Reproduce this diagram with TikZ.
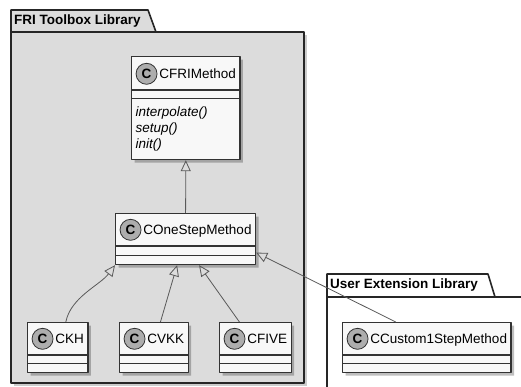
\documentclass[tikz,border=0pt]{standalone}
\usepackage{fontspec}
\setmainfont{Liberation Sans}
\usetikzlibrary{shapes.multipart,shadows,arrows.meta}
\definecolor{pkgfill}{HTML}{DCDCDC}
\definecolor{classfill}{HTML}{F8F8F8}
\definecolor{badgefill}{HTML}{ADADAD}
\definecolor{edgeline}{HTML}{333333}
\definecolor{linkline}{HTML}{595959}
\tikzset{
  badge/.style={circle, anchor=center, draw=edgeline, fill=badgefill, line width=0.8pt, minimum size=21pt, inner sep=0pt, font=\bfseries\fontsize{13.5}{13.5}\selectfont},
  umlclass/.style={rectangle split, rectangle split parts=3, rectangle split part align=left, draw=edgeline, line width=1.3pt, fill=classfill, inner xsep=4pt, inner ysep=0pt, anchor=north west, font=\fontsize{13.5}{16}\selectfont, drop shadow={shadow xshift=3pt, shadow yshift=-3pt, fill=black, opacity=0.25}},
  package/.style={draw=black!85, line width=1.6pt, line join=round},
  pkgtitle/.style={anchor=west, inner sep=0pt, font=\bfseries\fontsize{13.5}{16}\selectfont},
  inherit/.style={draw=linkline, line width=0.8pt, -{Triangle[open, length=11pt, width=10pt]}}
}
\newcommand\classmark{\tikz[baseline=-4.5pt]\node[badge]{C};}
\newcommand\classname[2][31pt]{\classmark\hspace{2pt}#2\rule[-11pt]{0pt}{#1}}
\newcommand\blankpart[1]{\hspace*{1pt}\rule{0pt}{#1}}
\begin{document}
\begin{tikzpicture}[x=1pt, y=-1pt, line join=round]
  \useasboundingbox (0,0) rectangle (521,386);
  \clip (0,0) rectangle (521,386);

  % FRI Toolbox Library
  \fill[black, opacity=.2] (14,35) rectangle (307,386);
  \draw[package, fill=pkgfill] (11,32) -- (11,10) -- (148,10) -- (156,32) -- cycle;
  \draw[package, fill=pkgfill] (11,32) rectangle (304,383);
  \node[pkgtitle] (frititle) at (14,21) {FRI Toolbox Library};

  % User Extension Library
  \draw[package, fill=white] (327,297) -- (327,274) -- (488,274) -- (495,297) -- cycle;
  \draw[package, fill=white] (327,297) rectangle (530,395);
  \node[pkgtitle] (usertitle) at (330,285.5) {User Extension Library};

  % classes
  \node[umlclass] (frimethod) at (131,56) {\classname[32pt]{CFRIMethod}
    \nodepart{two}\blankpart{7pt}
    \nodepart{three}\itshape\begin{tabular}{@{}l@{}}
      \rule{0pt}{18pt}interpolate()\\
      setup()\\
      \rule[-10pt]{0pt}{10pt}init()
    \end{tabular}};
  \node[umlclass] (onestep) at (115,213) {\classname{COneStepMethod}
    \nodepart{two}\blankpart{8pt}\nodepart{three}\blankpart{8pt}};
  \node[umlclass] (ckh) at (27,322) {\classname{CKH}
    \nodepart{two}\blankpart{7.5pt}\nodepart{three}\blankpart{7.5pt}};
  \node[umlclass] (cvkk) at (119,322) {\classname{CVKK}
    \nodepart{two}\blankpart{7.5pt}\nodepart{three}\blankpart{7.5pt}};
  \node[umlclass] (cfive) at (219,322) {\classname{CFIVE}
    \nodepart{two}\blankpart{7.5pt}\nodepart{three}\blankpart{7.5pt}};
  \node[umlclass] (custom) at (342,322) {\classname{CCustom1StepMethod}
    \nodepart{two}\blankpart{7.5pt}\nodepart{three}\blankpart{7.5pt}};

  % inheritance
  \draw[inherit] (onestep.north) -- (frimethod.south);
  \draw[inherit] ([xshift=8pt]ckh.north) .. controls +(5,-25) and +(-15,20) .. (onestep.south west);
  \draw[inherit] ([xshift=6.5pt]cvkk.north) -- ([xshift=-8.5pt]onestep.south);
  \draw[inherit] ([xshift=-16pt]cfive.north) -- ([xshift=13.5pt]onestep.south);
  \draw[inherit] ([xshift=-31pt]custom.north) -- ([yshift=-13.5pt]onestep.east);
\end{tikzpicture}
\end{document}
